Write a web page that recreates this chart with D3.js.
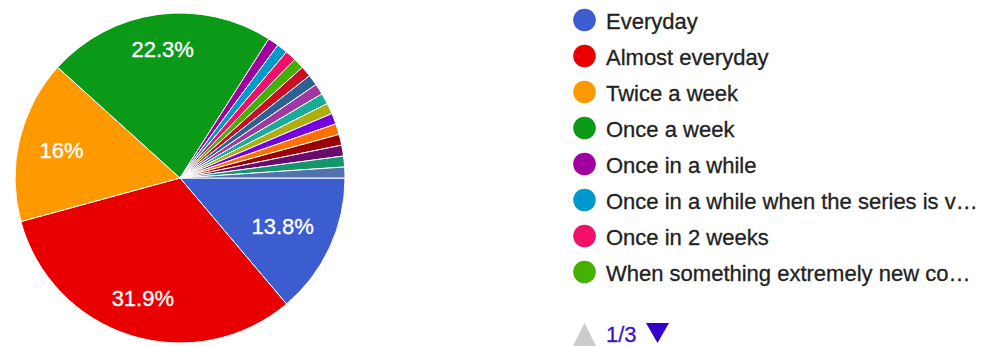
<!DOCTYPE html>
<html>
<head>
<meta charset="utf-8">
<script src="https://cdn.jsdelivr.net/npm/d3@7"></script>
<style>
  html, body { margin: 0; padding: 0; background: #fff; }
  svg { display: block; font-family: "Liberation Sans", Arial, sans-serif; }
</style>
</head>
<body>
<svg id="chart" width="986" height="346"></svg>
<script>
// Responses per answer (94 answers in total)
const responseCounts = [13, 30, 15, 21, 1, 1, 1, 1, 1, 1, 1, 1, 1, 1, 1, 1, 1, 1, 1];

// Slice colours, in answer order
const sliceColors = [
  "#3b5dcf", "#e80000", "#ff9900", "#0a9a18", "#a0009f",
  "#0099cc", "#f0106a", "#44b000", "#c80f24", "#2d6196",
  "#a038a2", "#18ab99", "#acb00e", "#7500e0", "#ff7000",
  "#9a0004", "#6a0a6e", "#15966a", "#5272ae"
];

// First legend page (page 1 of 3)
const legendLabels = [
  "Everyday",
  "Almost everyday",
  "Twice a week",
  "Once a week",
  "Once in a while",
  "Once in a while when the series is v\u2026",
  "Once in 2 weeks",
  "When something extremely new co\u2026"
];
const legendPage = "1/3";

const svg = d3.select("#chart");
const cx = 180, cy = 178, radius = 165;
const total = d3.sum(responseCounts);

const pie = d3.pie()
  .value(d => d)
  .sort(null)
  .startAngle(Math.PI / 2)
  .endAngle(Math.PI / 2 + 2 * Math.PI);

const arcs = pie(responseCounts);
const arc = d3.arc().innerRadius(0).outerRadius(radius);

const g = svg.append("g").attr("transform", `translate(${cx},${cy})`);

g.selectAll("path.slice")
  .data(arcs)
  .join("path")
  .attr("class", "slice")
  .attr("d", arc)
  .attr("fill", (d, i) => sliceColors[i])
  .attr("stroke", "#fff")
  .attr("stroke-width", 1);

// Percentage labels on slices large enough to hold them
const fmt = v => {
  const p = Math.round(v * 1000) / 10;
  return (Number.isInteger(p) ? p.toFixed(0) : p.toFixed(1)) + "%";
};
const labelReach = 145; // distance of the label box's outer corner from the centre

arcs.forEach((a, i) => {
  const share = a.data / total;
  if (share < 0.05) return;
  const t = g.append("text")
    .attr("fill", "#fff")
    .attr("stroke", "#fff")
    .attr("stroke-width", 0.35)
    .attr("font-size", 22)
    .attr("text-anchor", "middle")
    .text(fmt(share));
  const w = t.node().getComputedTextLength();
  const hw = w / 2, hh = 8;
  const mid = (a.startAngle + a.endAngle) / 2;
  const ux = Math.sin(mid), uy = -Math.cos(mid);
  const c = [Math.sign(ux) * hw, Math.sign(uy) * hh];
  const uc = ux * c[0] + uy * c[1];
  const cc = c[0] * c[0] + c[1] * c[1];
  const dist = -uc + Math.sqrt(uc * uc - cc + labelReach * labelReach);
  t.attr("x", ux * dist).attr("y", uy * dist + 8);
});

// Legend
const legend = svg.append("g").attr("transform", "translate(584.5,0)");
const rows = legend.selectAll("g.row")
  .data(legendLabels)
  .join("g")
  .attr("class", "row")
  .attr("transform", (d, i) => `translate(0,${20 + i * 36})`);

rows.append("circle")
  .attr("r", 11.3)
  .attr("fill", (d, i) => sliceColors[i]);

rows.append("text")
  .attr("x", 21.5)
  .attr("y", 8.5)
  .attr("font-size", 22)
  .attr("fill", "#222")
  .attr("stroke", "#222")
  .attr("stroke-width", 0.3)
  .text(d => d);

// Legend paging controls
const pager = svg.append("g").attr("transform", "translate(573,323)");
pager.append("path")
  .attr("d", "M11.5,0 L23,23 L0,23 Z")
  .attr("fill", "#cccccc");
pager.append("text")
  .attr("x", 33)
  .attr("y", 19)
  .attr("font-size", 22)
  .attr("fill", "#3a14d0")
  .attr("stroke", "#3a14d0")
  .attr("stroke-width", 0.3)
  .text(legendPage);
pager.append("path")
  .attr("d", "M73,0 L96,0 L84.5,20 Z")
  .attr("fill", "#3300cc");
</script>
</body>
</html>
